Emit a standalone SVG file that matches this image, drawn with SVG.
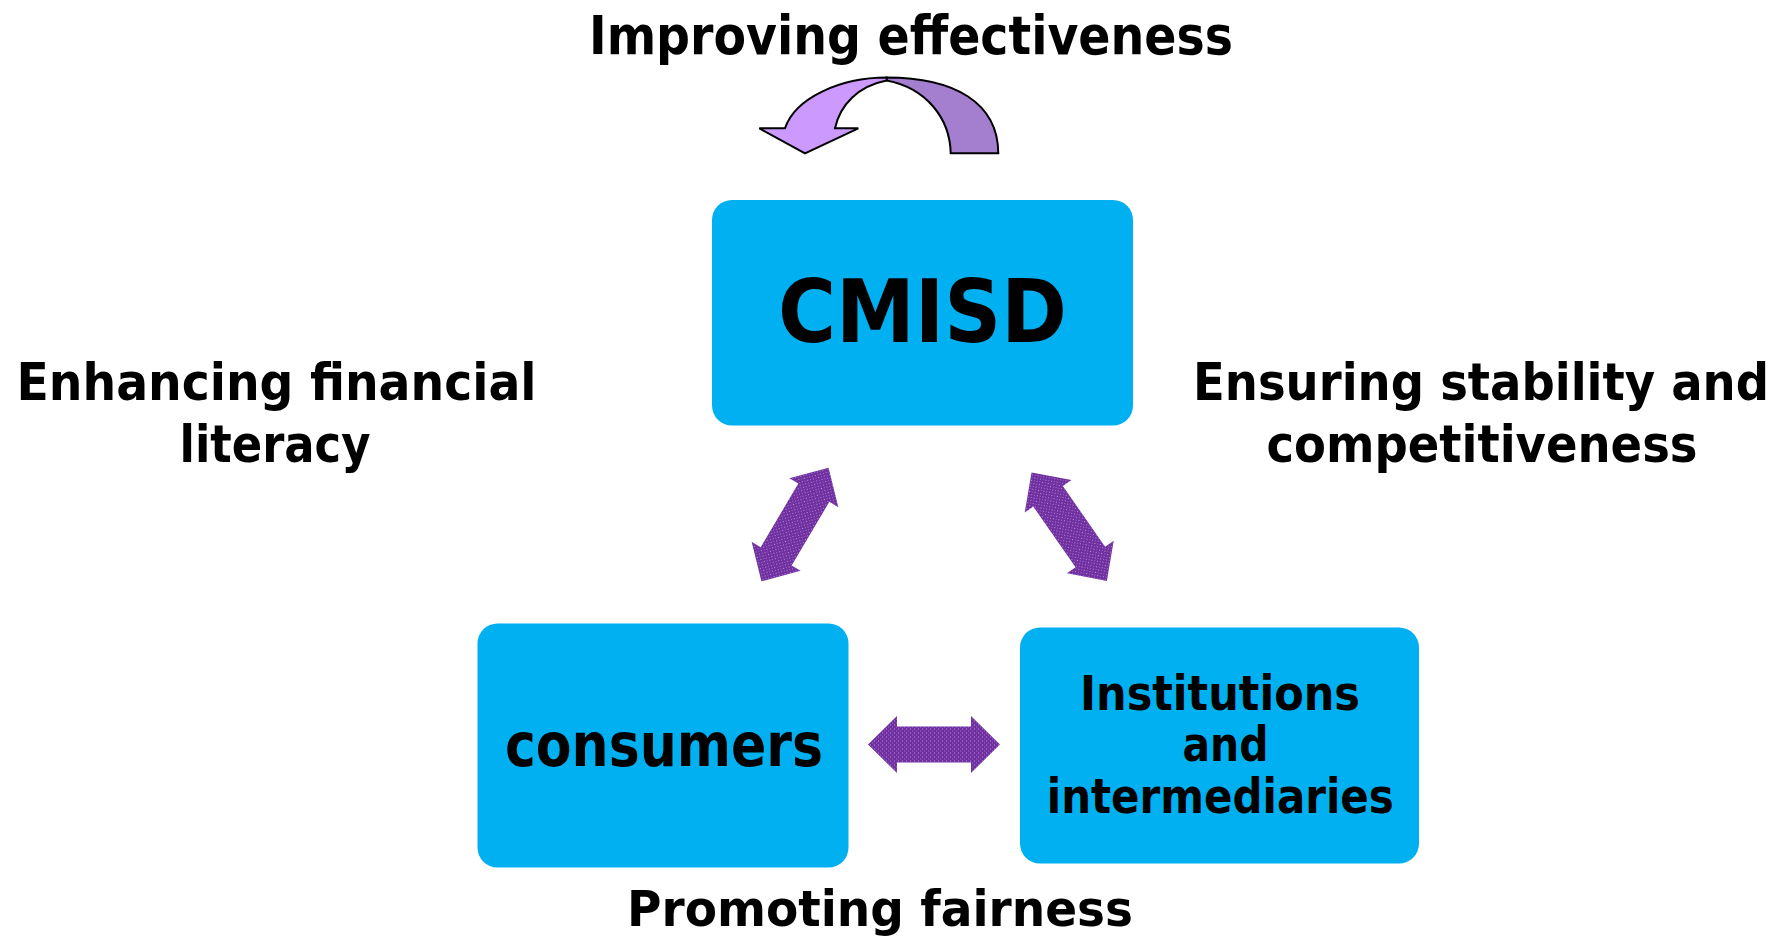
<svg xmlns="http://www.w3.org/2000/svg" xmlns:xlink="http://www.w3.org/1999/xlink" width="1785" height="938" viewBox="0 0 1785 938">
<style>
  .box { fill: #00B0F0; }
  .t { font-family: "DejaVu Sans Condensed", "DejaVu Sans", "Liberation Sans", sans-serif; font-weight: bold; fill: #000; text-anchor: middle; }
  .dbl { fill: url(#weave); }
  .curve { stroke: #000; stroke-width: 2; stroke-linejoin: miter; }
</style>
<defs>
  <pattern id="weave" width="4" height="4" patternUnits="userSpaceOnUse">
    <rect width="4" height="4" fill="#7030A0"/>
    <rect x="0" y="0" width="1" height="1" fill="#B891DA"/>
    <rect x="2" y="2" width="1" height="1" fill="#9A6CC6"/>
  </pattern>
  <polygon id="dblArrow" points="-66,0 -37,-28.5 -37,-18 37,-18 37,-28.5 66,0 37,28.5 37,18 -37,18 -37,28.5"/>
</defs>
<rect width="1785" height="938" fill="#FFFFFF"/>

<g id="label-improving">
  <text class="t" x="911" y="53.5" font-size="54" textLength="644" lengthAdjust="spacingAndGlyphs">Improving effectiveness</text>
</g>

<g id="loop-arrow">
  <path class="curve" fill="#A57FCF" d="M886.7,77.5 C955,77.5 998,103 998.3,153.3 L950.7,153.3 C950,118 926,88 886.7,80.5 Z"/>
  <path class="curve" fill="#CC99FF" d="M886.7,77.5 C840,77.5 795,98 785,128.3 L759.3,128.3 L805,153.3 L858.3,128.3 L835,128.3 C840,105 858,86 886.7,80.5 Z"/>
</g>

<g id="node-cmisd">
  <rect class="box" x="712" y="200" width="421" height="225.5" rx="20" ry="20"/>
  <text class="t" x="922.5" y="342" font-size="87" textLength="289" lengthAdjust="spacingAndGlyphs">CMISD</text>
</g>

<g id="label-literacy">
  <text class="t" x="276.5" y="399.5" font-size="52" textLength="520" lengthAdjust="spacingAndGlyphs">Enhancing financial</text>
  <text class="t" x="275" y="461.5" font-size="52" textLength="191" lengthAdjust="spacingAndGlyphs">literacy</text>
</g>

<g id="label-stability">
  <text class="t" x="1481" y="399.5" font-size="52" textLength="576" lengthAdjust="spacingAndGlyphs">Ensuring stability and</text>
  <text class="t" x="1482" y="461.5" font-size="52" textLength="431" lengthAdjust="spacingAndGlyphs">competitiveness</text>
</g>

<g id="node-consumers">
  <rect class="box" x="477.5" y="623.5" width="371" height="244" rx="20" ry="20"/>
  <text class="t" x="664" y="765.7" font-size="61" textLength="318" lengthAdjust="spacingAndGlyphs">consumers</text>
</g>

<g id="node-institutions">
  <rect class="box" x="1020" y="627.5" width="399" height="236" rx="20" ry="20"/>
  <text class="t" x="1220" y="710" font-size="48" textLength="280" lengthAdjust="spacingAndGlyphs">Institutions</text>
  <text class="t" x="1225.5" y="760.7" font-size="48" textLength="86" lengthAdjust="spacingAndGlyphs">and</text>
  <text class="t" x="1220.3" y="813.3" font-size="48" textLength="347" lengthAdjust="spacingAndGlyphs">intermediaries</text>
</g>

<g id="label-fairness">
  <text class="t" x="880" y="926" font-size="50" textLength="506" lengthAdjust="spacingAndGlyphs">Promoting fairness</text>
</g>

<g id="connectors">
  <use xlink:href="#dblArrow" href="#dblArrow" class="dbl" transform="translate(795,524.5) rotate(-59.4)"/>
  <use xlink:href="#dblArrow" href="#dblArrow" class="dbl" transform="translate(1069.2,526.7) rotate(55.2)"/>
  <use xlink:href="#dblArrow" href="#dblArrow" class="dbl" transform="translate(934,744.5)"/>
</g>
</svg>
